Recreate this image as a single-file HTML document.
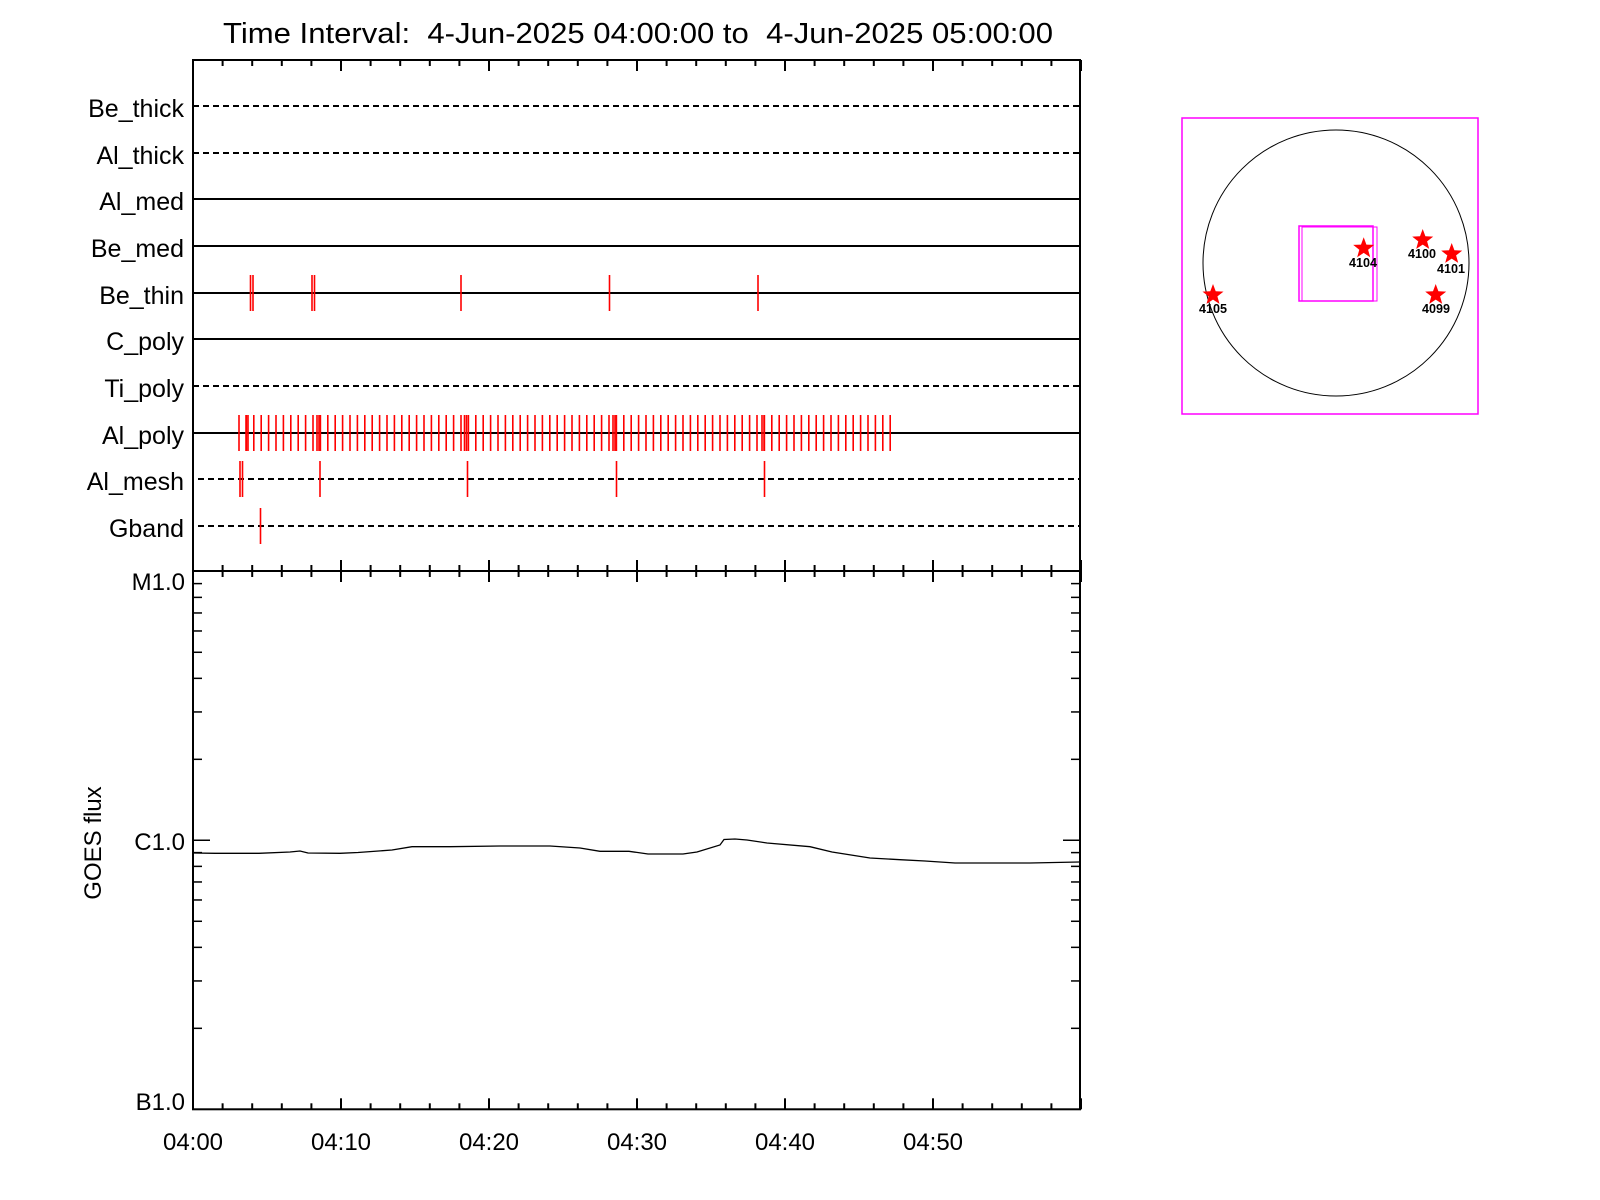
<!DOCTYPE html>
<html><head><meta charset="utf-8"><style>
html,body{margin:0;padding:0;background:#fff;}
svg{display:block;font-family:"Liberation Sans",sans-serif;}
</style></head><body>
<svg width="1600" height="1200" viewBox="0 0 1600 1200" xmlns="http://www.w3.org/2000/svg">
<rect width="1600" height="1200" fill="#fff"/>
<text x="223" y="43" font-size="29" textLength="830" lengthAdjust="spacingAndGlyphs">Time Interval:&#160; 4-Jun-2025 04:00:00 to&#160; 4-Jun-2025 05:00:00</text>
<g id="rows" stroke="#000" stroke-width="2" fill="none">
<line x1="193" y1="106" x2="1080" y2="106" stroke-dasharray="6,4"/>
<line x1="193" y1="153" x2="1080" y2="153" stroke-dasharray="6,4"/>
<line x1="193" y1="199" x2="1080" y2="199"/>
<line x1="193" y1="246" x2="1080" y2="246"/>
<line x1="193" y1="293" x2="1080" y2="293"/>
<line x1="193" y1="339" x2="1080" y2="339"/>
<line x1="193" y1="386" x2="1080" y2="386" stroke-dasharray="6,4"/>
<line x1="193" y1="433" x2="1080" y2="433"/>
<line x1="198" y1="479" x2="1080" y2="479" stroke-dasharray="6,4"/>
<line x1="198" y1="526" x2="1080" y2="526" stroke-dasharray="6,4"/>
</g>
<g font-size="25" text-anchor="end">
<text x="184" y="117">Be_thick</text>
<text x="184" y="164">Al_thick</text>
<text x="184" y="210">Al_med</text>
<text x="184" y="257">Be_med</text>
<text x="184" y="304">Be_thin</text>
<text x="184" y="350">C_poly</text>
<text x="184" y="397">Ti_poly</text>
<text x="184" y="444">Al_poly</text>
<text x="184" y="490">Al_mesh</text>
<text x="184" y="537">Gband</text>
</g>
<g stroke="#f00" stroke-width="1.6" id="red"></g>
<g id="ticks" stroke="#000" stroke-width="2"></g>
<rect x="193" y="60" width="887" height="1049.3" fill="none" stroke="#000" stroke-width="2"/>
<line x1="193" y1="571" x2="1080" y2="571" stroke="#000" stroke-width="2"/>
<g font-size="24" text-anchor="end">
<text x="185" y="590">M1.0</text>
<text x="185" y="850">C1.0</text>
<text x="185" y="1110">B1.0</text>
</g>
<text transform="translate(101,843) rotate(-90)" font-size="24" text-anchor="middle">GOES flux</text>
<g font-size="24" text-anchor="middle">
<text x="193" y="1150">04:00</text>
<text x="341" y="1150">04:10</text>
<text x="489" y="1150">04:20</text>
<text x="637" y="1150">04:30</text>
<text x="785" y="1150">04:40</text>
<text x="933" y="1150">04:50</text>
</g>
<polyline fill="none" stroke="#000" stroke-width="1.3" points="193,853 215,853.3 259,853.3 290,852 300,851 308,853 340,853.3 358,852.5 392,850 412,846.7 450,846.7 500,846 550,846 580,848 600,851.3 629,851.3 648,854 683,854 697,852 720,845 724,839.5 735,839 747,840 767,843 810,846.7 832,852 870,858 900,859.7 925,861 955,863 1030,863 1079,862"/>
<rect x="1182" y="118" width="296" height="296" fill="none" stroke="#f0f" stroke-width="1.5"/>
<circle cx="1336" cy="263" r="133" fill="none" stroke="#000" stroke-width="1"/>
<rect x="1299" y="226" width="74" height="75" fill="none" stroke="#f0f" stroke-width="1.5"/>
<rect x="1302" y="227" width="75" height="74" fill="none" stroke="#f0f" stroke-width="1"/>
<g id="stars" fill="#f00"></g>
<g font-size="13" text-anchor="middle" fill="#000" font-weight="bold">
<text x="1363" y="267" textLength="28" lengthAdjust="spacingAndGlyphs">4104</text>
<text x="1422" y="258" textLength="28" lengthAdjust="spacingAndGlyphs">4100</text>
<text x="1451" y="273" textLength="28" lengthAdjust="spacingAndGlyphs">4101</text>
<text x="1213" y="313" textLength="28" lengthAdjust="spacingAndGlyphs">4105</text>
<text x="1436" y="313" textLength="28" lengthAdjust="spacingAndGlyphs">4099</text>
</g>
<script>
var NS="http://www.w3.org/2000/svg";
function ln(g,x1,y1,x2,y2,sw){var l=document.createElementNS(NS,"line");l.setAttribute("x1",x1);l.setAttribute("y1",y1);l.setAttribute("x2",x2);l.setAttribute("y2",y2);if(sw)l.setAttribute("stroke-width",sw);g.appendChild(l);}
var r=document.getElementById("red");
function tick(x,y){ln(r,x,y-18,x,y+18);}
[250.5,253,312,314.5,461,609.5,758].forEach(function(x){tick(x,293);});
for(var i=0;i<=88;i++){tick(239+7.4*i,433);}
[246,248,317,319,464.5,466.5,613,615,762,764].forEach(function(x){tick(x,433);});
[240,242.5,320,467.5,616.5,764.5].forEach(function(x){tick(x,479);});
tick(260.5,526);
var t=document.getElementById("ticks");
for(var m=0;m<=60;m+=2){var x=193+m*14.8;var L=(m%10==0)?11:6;
ln(t,x,60,x,60+L);ln(t,x,571-L,x,571+L);ln(t,x,1109.3,x,1109.3-L);}
var D=269,B=1109.3;
ln(t,193,B-D,210,B-D,1.5);ln(t,1080,B-D,1063,B-D,1.5);
for(var d=0;d<2;d++){var y0=B-d*D;
for(var k=2;k<=9;k++){var y=y0-D*Math.log10(k);
ln(t,193,y,202,y,1.5);ln(t,1080,y,1071,y,1.5);}}
var s=document.getElementById("stars");
[[1363.7,248.3],[1422.7,240],[1451.7,254],[1213,295],[1435.7,295]].forEach(function(p){
var pts=[];for(var j=0;j<10;j++){var a=-Math.PI/2+j*Math.PI/5;var rr=(j%2==0)?11:4.6;pts.push((p[0]+rr*Math.cos(a)).toFixed(1)+","+(p[1]+rr*Math.sin(a)).toFixed(1));}
var pg=document.createElementNS(NS,"polygon");pg.setAttribute("points",pts.join(" "));s.appendChild(pg);});
</script>
</svg>
</body></html>
